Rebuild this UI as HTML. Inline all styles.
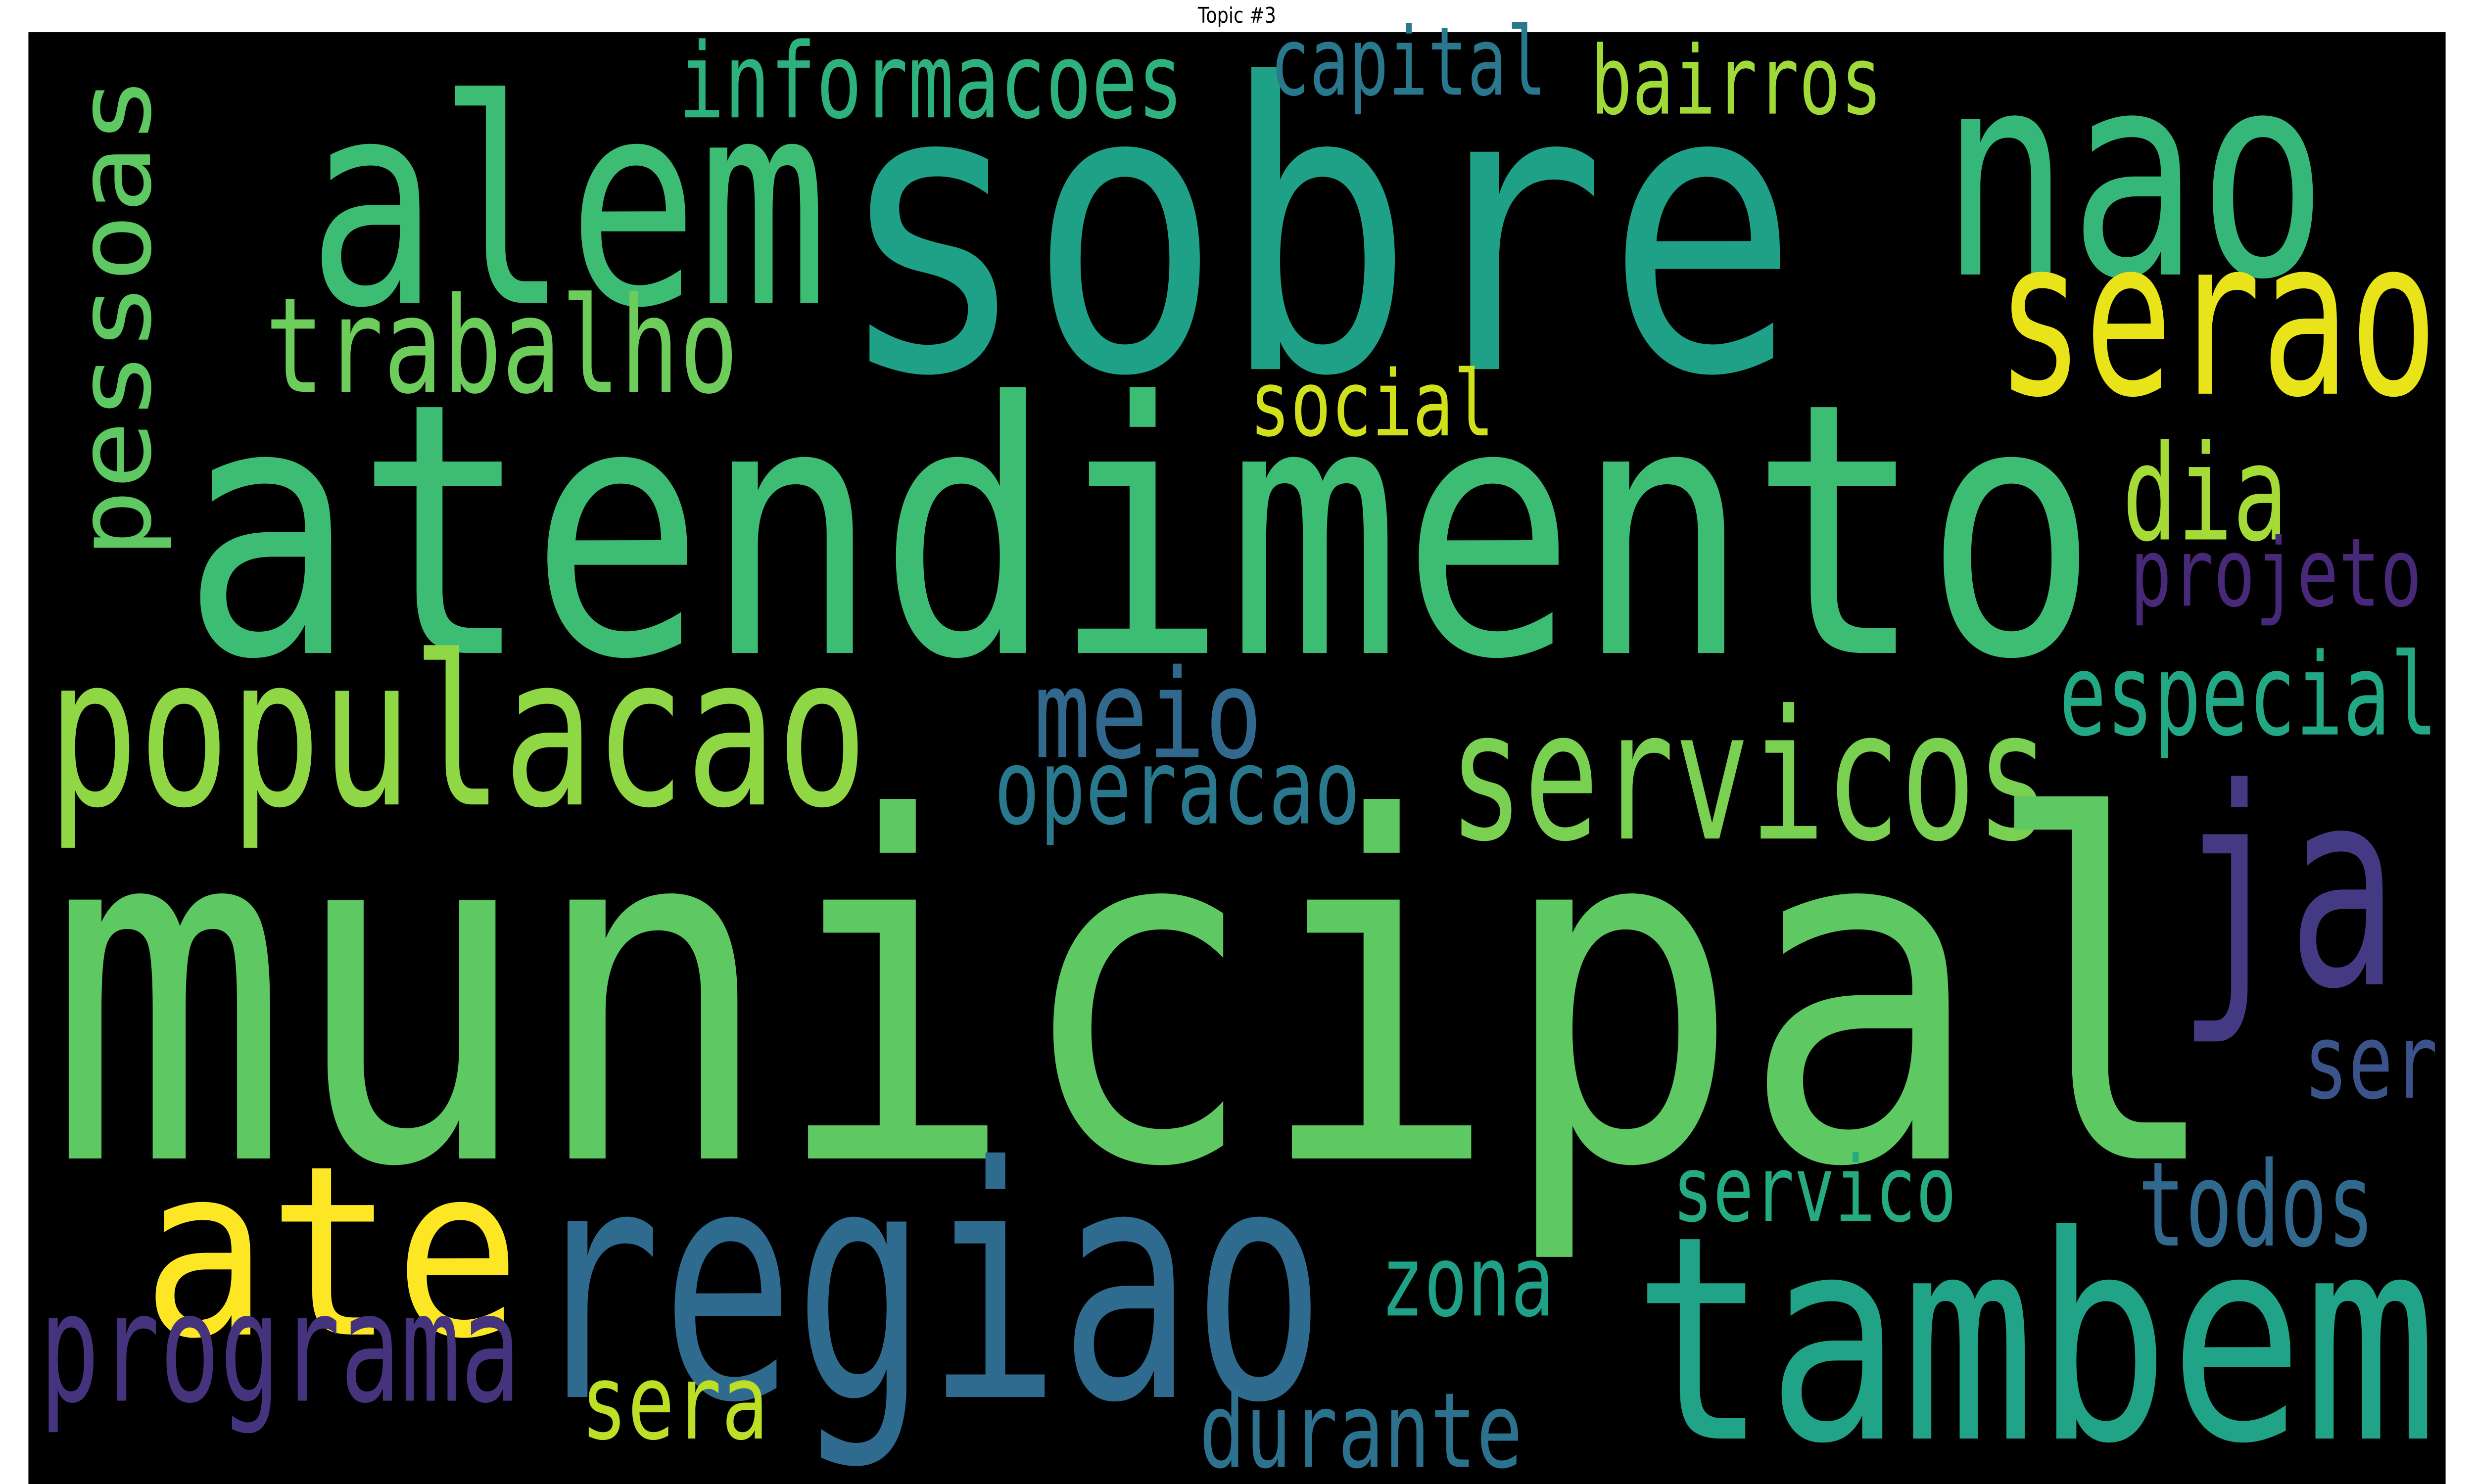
<!DOCTYPE html>
<html><head><meta charset="utf-8"><style>
html,body{margin:0;padding:0;background:#fff;width:100vw;height:100vh;overflow:hidden}
svg{display:block;width:100vw;height:100vh}
text.w{font-family:"DejaVu Sans Mono","Liberation Mono",monospace}
</style></head><body>
<svg viewBox="0 0 1568 784" preserveAspectRatio="none" xmlns="http://www.w3.org/2000/svg">
<text x="784" y="12" text-anchor="middle" font-family="DejaVu Sans, Liberation Sans, sans-serif" font-size="11.5" fill="#000">Topic #3</text>
<rect x="18" y="17" width="1532" height="767" fill="#000"/>
<g id="words">
<text class="w" x="195" y="160" font-size="150" fill="#3dbc74" textLength="330" lengthAdjust="spacingAndGlyphs">alem</text>
<text class="w" x="530" y="195" font-size="210" fill="#1fa187" textLength="610" lengthAdjust="spacingAndGlyphs">sobre</text>
<text class="w" x="1230" y="145" font-size="150" fill="#35b779" textLength="245" lengthAdjust="spacingAndGlyphs">nao</text>
<text class="w" x="1265" y="208" font-size="115" fill="#e8e419" textLength="280" lengthAdjust="spacingAndGlyphs">serao</text>
<text class="w" x="430" y="62" font-size="55" fill="#2db27d" textLength="320" lengthAdjust="spacingAndGlyphs">informacoes</text>
<text class="w" x="805" y="50" font-size="50" fill="#2a788e" textLength="175" lengthAdjust="spacingAndGlyphs">capital</text>
<text class="w" x="1008" y="60" font-size="50" fill="#a0da39" textLength="185" lengthAdjust="spacingAndGlyphs">bairros</text>
<text class="w" x="0" y="0" font-size="65" fill="#5ec962" textLength="255" lengthAdjust="spacingAndGlyphs" transform="translate(95,295) rotate(-90)">pessoas</text>
<text class="w" x="168" y="207" font-size="70" fill="#6ccd5a" textLength="300" lengthAdjust="spacingAndGlyphs">trabalho</text>
<text class="w" x="792" y="230" font-size="48" fill="#d0e11c" textLength="155" lengthAdjust="spacingAndGlyphs">social</text>
<text class="w" x="115" y="345" font-size="185" fill="#3dbc74" textLength="1215" lengthAdjust="spacingAndGlyphs">atendimento</text>
<text class="w" x="1345" y="285" font-size="70" fill="#a5db36" textLength="105" lengthAdjust="spacingAndGlyphs">dia</text>
<text class="w" x="1350" y="320" font-size="50" fill="#482878" textLength="185" lengthAdjust="spacingAndGlyphs">projeto</text>
<text class="w" x="30" y="425" font-size="110" fill="#8fd744" textLength="520" lengthAdjust="spacingAndGlyphs">populacao</text>
<text class="w" x="655" y="400" font-size="65" fill="#31688e" textLength="145" lengthAdjust="spacingAndGlyphs">meio</text>
<text class="w" x="918" y="443" font-size="95" fill="#7ad151" textLength="382" lengthAdjust="spacingAndGlyphs">servicos</text>
<text class="w" x="1305" y="388" font-size="60" fill="#22a884" textLength="240" lengthAdjust="spacingAndGlyphs">especial</text>
<text class="w" x="630" y="435" font-size="55" fill="#2a788e" textLength="232" lengthAdjust="spacingAndGlyphs">operacao</text>
<text class="w" x="1380" y="520" font-size="145" fill="#443983" textLength="140" lengthAdjust="spacingAndGlyphs">ja</text>
<text class="w" x="30" y="612" font-size="250" fill="#5ec962" textLength="1380" lengthAdjust="spacingAndGlyphs">municipal</text>
<text class="w" x="1460" y="580" font-size="55" fill="#3b528b" textLength="85" lengthAdjust="spacingAndGlyphs">ser</text>
<text class="w" x="1060" y="645" font-size="48" fill="#25ab82" textLength="180" lengthAdjust="spacingAndGlyphs">servico</text>
<text class="w" x="1355" y="658" font-size="62" fill="#31688e" textLength="150" lengthAdjust="spacingAndGlyphs">todos</text>
<text class="w" x="875" y="695" font-size="52" fill="#1fa187" textLength="110" lengthAdjust="spacingAndGlyphs">zona</text>
<text class="w" x="90" y="705" font-size="125" fill="#fde725" textLength="240" lengthAdjust="spacingAndGlyphs">ate</text>
<text class="w" x="335" y="738" font-size="170" fill="#2f6b8e" textLength="505" lengthAdjust="spacingAndGlyphs">regiao</text>
<text class="w" x="1035" y="760" font-size="150" fill="#20a386" textLength="510" lengthAdjust="spacingAndGlyphs">tambem</text>
<text class="w" x="25" y="740" font-size="80" fill="#46337e" textLength="305" lengthAdjust="spacingAndGlyphs">programa</text>
<text class="w" x="368" y="760" font-size="55" fill="#bddf26" textLength="119" lengthAdjust="spacingAndGlyphs">sera</text>
<text class="w" x="760" y="775" font-size="55" fill="#2c718e" textLength="205" lengthAdjust="spacingAndGlyphs">durante</text>
</g>
</svg>
</body></html>
